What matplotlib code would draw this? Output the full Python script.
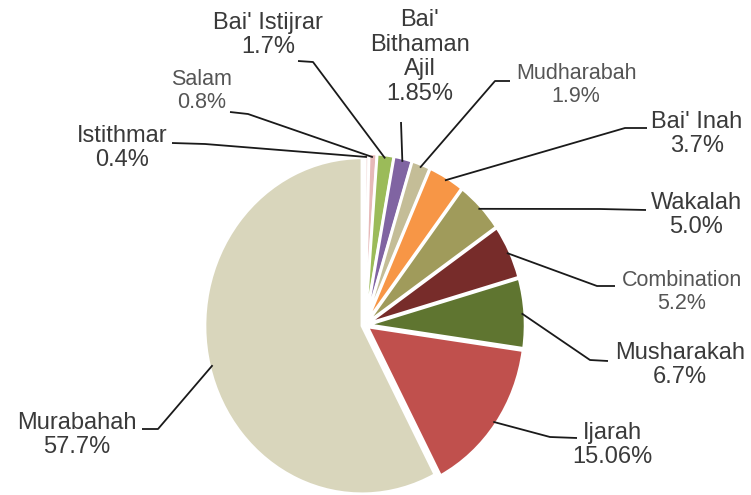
import matplotlib.pyplot as plt
import numpy as np

plt.rcParams["font.family"] = ["Liberation Sans", "DejaVu Sans"]

# financing contracts, clockwise from 12 o'clock
categories = ["Istithmar", "Salam", "Bai' Istijrar", "Bai'\nBithaman\nAjil", "Mudharabah",
              "Bai' Inah", "Wakalah", "Combination", "Musharakah", "Ijarah", "Murabahah"]
shares = [0.4, 0.8, 1.7, 1.85, 1.9, 3.7, 5.0, 5.2, 6.7, 15.06, 57.7]
colors = ["#F2DCDB", "#E6B9B8", "#9BBB59", "#8064A2", "#C4BD97", "#F79646",
          "#A09B5B", "#772C2A", "#5F7530", "#C0504D", "#D9D6BC"]

# label placement in pixels (x right, y down)
label_xy = [(122, 148), (202, 91), (268, 35), (420, 57), (576, 85), (697, 134),
            (696, 215), (682, 292), (680, 365), (612, 445), (77, 435)]
leader_elbow = [(205, 144), (248, 114), (313, 62), (401, 122), (495, 81), (625, 128),
                (600, 209), (597, 286), (590, 360), (550, 437), (158, 429)]
leader_end = [(172, 143), (230, 112), (298, 61), (401, 122), (510, 81), (647, 128),
              (646, 210), (615, 286), (608, 361), (577, 438), (142, 429)]
small_labels = {"Salam", "Mudharabah", "Combination"}

W, H = 751, 495
cx, cy = 365, 325      # pie centre
rx, ry = 157, 168      # pie radii
pad = 1.1

fig = plt.figure(figsize=(W / 100, H / 100), dpi=100)

ax = fig.add_axes([(cx - rx * pad) / W, (H - cy - ry * pad) / H,
                   2 * rx * pad / W, 2 * ry * pad / H])
ax.pie(shares, colors=colors, startangle=90, counterclock=False, radius=1,
       explode=[0.02] * len(shares),
       wedgeprops=dict(edgecolor="white", linewidth=2))
ax.set_aspect("auto")
ax.set_xlim(-pad, pad)
ax.set_ylim(-pad, pad)
ax.axis("off")

ov = fig.add_axes([0, 0, 1, 1], zorder=2)
ov.set_xlim(0, W)
ov.set_ylim(H, 0)
ov.axis("off")
ov.patch.set_alpha(0)

total = sum(shares)
cum = np.cumsum([0] + shares[:-1])
for i, (name, v) in enumerate(zip(categories, shares)):
    theta = np.deg2rad((cum[i] + v / 2) / total * 360)
    sx = cx + rx * 1.0 * np.sin(theta)
    sy = cy - ry * 1.0 * np.cos(theta)
    ex, ey = leader_elbow[i]
    tx, ty = leader_end[i]
    ov.plot([sx, ex, tx], [sy, ey, ty], color="#1a1a1a", lw=1.3, solid_capstyle="butt")

    small = name in small_labels
    ov.text(label_xy[i][0], label_xy[i][1], f"{name}\n{v}%", ha="center", va="center",
            fontsize=15.5 if small else 17, linespacing=1.15,
            color="#555555" if small else "#3a3a3a")

plt.savefig("out.png", dpi=100)
plt.close()
